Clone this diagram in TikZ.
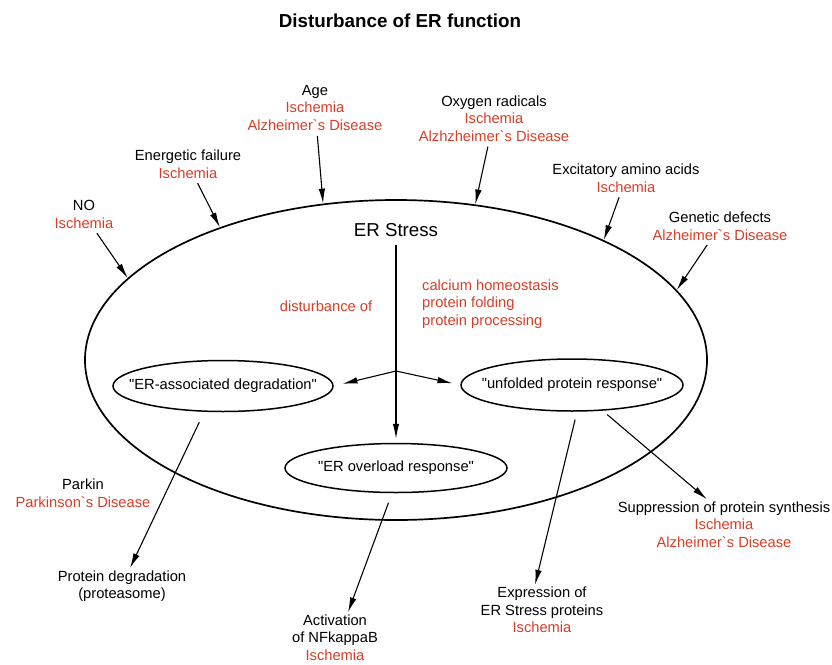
\documentclass[tikz,border=0pt]{standalone}
\usepackage{fontspec}
\setmainfont{Liberation Sans}[Ligatures=TeXOff]
\usetikzlibrary{shapes.geometric,arrows.meta}
\definecolor{disred}{RGB}{214,62,40}
\newcommand{\dis}[1]{\textcolor{disred}{#1}}
\newcommand{\pw}[1]{\makebox[0pt]{#1}}
\newcommand{\lblfont}{\fontsize{14.7}{17.6}\selectfont}
\tikzstyle{cause}=[align=center,font=\lblfont,inner sep=2pt]
\tikzstyle{pathway}=[ellipse,draw,line width=1.5pt,font=\lblfont,inner sep=0pt,minimum width=222pt,minimum height=50pt]
\tikzstyle{edge} = [draw,line width=1.1pt,-{Latex[length=15pt,width=6.5pt]}]
\tikzstyle{link} = [draw,line width=1.1pt]

\begin{document}
\begin{tikzpicture}[x=1pt,y=-1pt]
    \useasboundingbox (0,0) rectangle (832,664);
    \node[font=\fontsize{18.8}{22}\selectfont\bfseries] (title) at (400,21) {Disturbance of ER function};

    % the ER itself
    \node[ellipse,draw,line width=1.7pt,minimum width=622pt,minimum height=320pt,inner sep=0pt] (er) at (396,360) {};
    \node[font=\fontsize{18.7}{22}\selectfont] (stress) at (396,230) {ER Stress};
    \node[cause,text=disred] (dist) at (326,306) {disturbance of};
    \node[cause,align=left,anchor=west,text=disred] (funcs) at (420,304) {calcium homeostasis\\protein folding\\protein processing};

    % the three responses
    \coordinate (br) at (396,371);
    \node[pathway,minimum width=220pt,minimum height=51pt] (erad) at (223,386) {\pw{"ER-associated degradation"}};
    \node[pathway,minimum height=52pt] (upr) at (572,385) {\pw{"unfolded protein response"}};
    \node[pathway,minimum height=49pt] (eor) at (396,468) {\pw{"ER overload response"}};

    % First the causes round the top
    \foreach \pos/ \name/ \txt in {{(84,214.5)/no/{NO\\\dis{Ischemia}}},
        {(188,164)/ener/{Energetic failure\\\dis{Ischemia}}},
        {(315,108)/age/{Age\\\dis{Ischemia}\\\dis{Alzheimer`s Disease}}},
        {(494,118.5)/oxy/{Oxygen radicals\\\dis{Ischemia}\\\dis{Alzhzheimer`s Disease}}},
        {(626,178)/exc/{Excitatory amino acids\\\dis{Ischemia}}},
        {(720,226)/gen/{Genetic defects\\\dis{Alzheimer`s Disease}}}}
        \node[cause] (\name) at \pos {\txt};

    \foreach \source/ \tip in {no/163, ener/143, age/115, oxy/63, exc/30, gen/14}
        \path[edge,shorten <=3pt] (\source) -- (er.\tip);

    % Then the outcomes
    \node[cause] (parkin) at (83,493) {Parkin\\\dis{Parkinson`s Disease}};
    \node[cause] (pdeg) at (122,586) {Protein degradation\\(proteasome)};
    \node[cause] (act) at (335,637.5) {Activation\\of NFkappaB\\\dis{Ischemia}};
    \node[cause] (expr) at (542,610) {Expression of\\ER Stress proteins\\\dis{Ischemia}};
    \node[cause] (supp) at (724,524.5) {Suppression of protein synthesis\\\dis{Ischemia}\\\dis{Alzheimer`s Disease}};

    \path[link,shorten <=5pt] (stress) -- (br);
    \path[edge,shorten >=9pt] (br) -- (erad.east);
    \path[edge,shorten >=8pt] (br) -- (upr.west);
    \path[edge,shorten >=4pt] (br) -- (eor.north);

    \path[edge,shorten <=11pt] ([xshift=-19pt]erad.south) -- ([xshift=8pt]pdeg.north);
    \path[edge,shorten <=10pt] ([xshift=-4pt]eor.south) -- ([xshift=13pt]act.north);
    \path[edge,shorten <=8pt] ([xshift=5pt]upr.south) -- ([xshift=-7pt]expr.north);
    \path[edge,shorten <=6pt] (upr.320) -- ([xshift=-17pt]supp.north);
\end{tikzpicture}
\end{document}
